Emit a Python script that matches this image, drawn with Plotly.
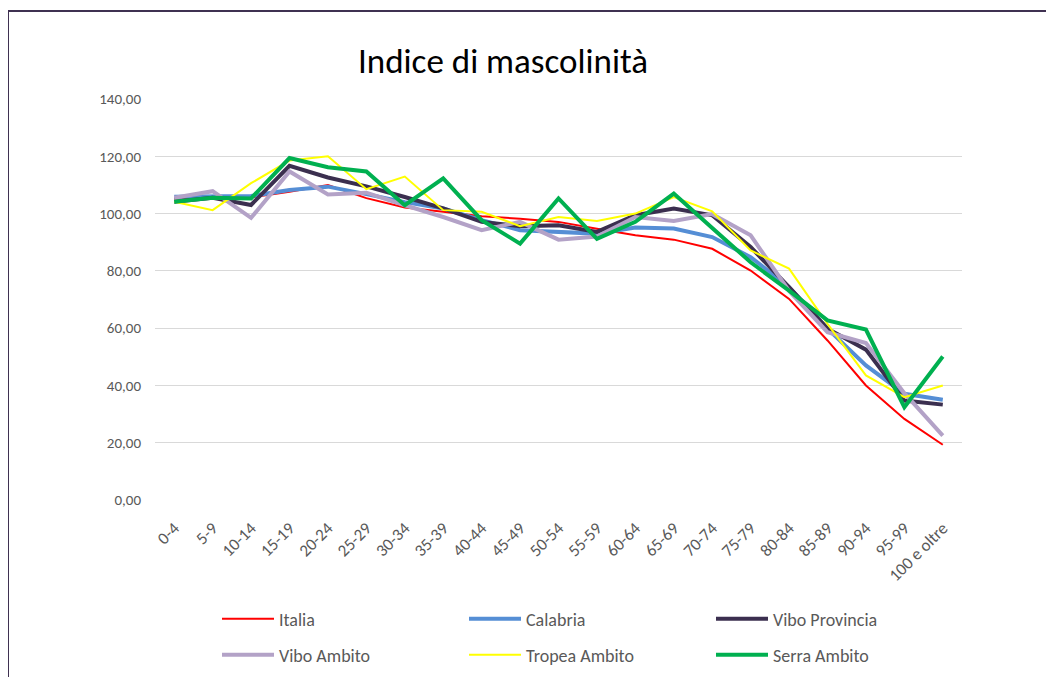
import plotly.graph_objects as go

categories = ["0-4", "5-9", "10-14", "15-19", "20-24", "25-29", "30-34", "35-39",
              "40-44", "45-49", "50-54", "55-59", "60-64", "65-69", "70-74", "75-79",
              "80-84", "85-89", "90-94", "95-99", "100 e oltre"]

italia = [105.3, 105.5, 105.6, 107.6, 110.0, 105.4, 102.1, 100.6, 99.1, 98.2, 97.1,
          94.7, 92.4, 90.9, 87.7, 80.1, 70.2, 55.7, 40.0, 28.3, 19.3]
calabria = [105.9, 106.1, 106.1, 108.2, 109.4, 106.8, 104.0, 101.8, 97.7, 94.2, 93.6,
            93.0, 95.1, 94.8, 91.8, 84.8, 74.3, 59.8, 47.0, 37.1, 35.0]
vibo_provincia = [104.1, 105.5, 103.0, 116.7, 112.6, 109.5, 105.8, 101.8, 97.1, 95.6, 95.9,
                  93.6, 99.4, 101.8, 99.4, 88.3, 74.3, 59.8, 52.5, 34.7, 33.3]
vibo_ambito = [105.5, 107.8, 98.5, 114.7, 106.7, 107.3, 102.9, 98.8, 94.2, 97.1, 90.9,
               92.0, 98.8, 97.4, 99.8, 92.4, 73.0, 58.6, 54.8, 37.3, 22.5]
tropea_ambito = [104.1, 101.2, 110.6, 118.5, 120.0, 108.5, 112.9, 101.2, 100.6, 95.6, 98.8,
                 97.4, 100.0, 105.8, 100.8, 87.1, 80.8, 61.5, 43.5, 35.9, 40.0]
serra_ambito = [104.1, 105.5, 105.3, 119.4, 116.2, 114.7, 102.9, 112.3, 97.7, 89.5, 105.3,
                91.2, 97.1, 107.0, 95.0, 83.0, 73.1, 62.7, 59.5, 32.4, 50.1]

series = [
    ("Italia", italia, "#FF0000", 2, "legend"),
    ("Calabria", calabria, "#558ED5", 4, "legend"),
    ("Vibo Provincia", vibo_provincia, "#3B2F4F", 4, "legend"),
    ("Vibo Ambito", vibo_ambito, "#B3A2C7", 4, "legend2"),
    ("Tropea Ambito", tropea_ambito, "#FFFF00", 2, "legend2"),
    ("Serra Ambito", serra_ambito, "#00B050", 4, "legend2"),
]

FONT = "Calibri, Carlito, Lato, sans-serif"

fig = go.Figure()
for name, vals, color, w, lg in series:
    fig.add_trace(go.Scatter(x=categories, y=vals, name=name, mode="lines",
                             line=dict(color=color, width=w), legend=lg))

# page body has an 8px margin; plot area target in page pixels: x 155..962, y 99..500
OFF = 8
W, H = 1054, 677
pw, ph = 807, 401
L, T = 155 - OFF, 99 - OFF
R, B = W - L - pw, H - T - ph

def px_x(p):
    return (p - OFF - L) / pw

def px_y(p):
    return (T + ph - (p - OFF)) / ph

legend_common = dict(orientation="h", xanchor="left", yanchor="middle",
                     entrywidth=180, entrywidthmode="pixels", itemwidth=52,
                     font=dict(size=18, color="#595959"), bgcolor="rgba(0,0,0,0)")

fig.update_layout(
    width=W, height=H,
    margin=dict(l=L, r=R, t=T, b=B),
    paper_bgcolor="white", plot_bgcolor="white",
    separators=",.",
    font=dict(family=FONT, color="#595959", size=15),
    title=dict(text="Indice di mascolinità", x=(503 - OFF) / W, xanchor="center",
               y=1 - (61 - OFF) / H, yanchor="middle",
               font=dict(family=FONT, size=35, color="#000000")),
    xaxis=dict(type="category", range=[-0.5, len(categories) - 0.5], tickangle=-45,
               showgrid=False, showline=False, ticks="", ticklabelstandoff=14,
               tickfont=dict(size=17, color="#595959"), zeroline=False),
    yaxis=dict(range=[0, 140], dtick=20, tickformat=".2f", showgrid=True,
               gridcolor="#D9D9D9", gridwidth=1, zeroline=False, showline=False,
               ticks="", ticklabelstandoff=13,
               tickfont=dict(size=15, color="#595959")),
    legend=dict(x=px_x(217), y=px_y(619), **legend_common),
    legend2=dict(x=px_x(217), y=px_y(655), **legend_common),
    showlegend=True,
)

frame_color = "#3F3151"
fig.add_shape(type="line", xref="paper", yref="paper",
              x0=px_x(8), x1=px_x(1070), y0=px_y(11), y1=px_y(11),
              line=dict(color=frame_color, width=2))
fig.add_shape(type="line", xref="paper", yref="paper",
              x0=px_x(8), x1=px_x(8), y0=px_y(11), y1=px_y(700),
              line=dict(color=frame_color, width=2))

fig.write_html("out.html")
